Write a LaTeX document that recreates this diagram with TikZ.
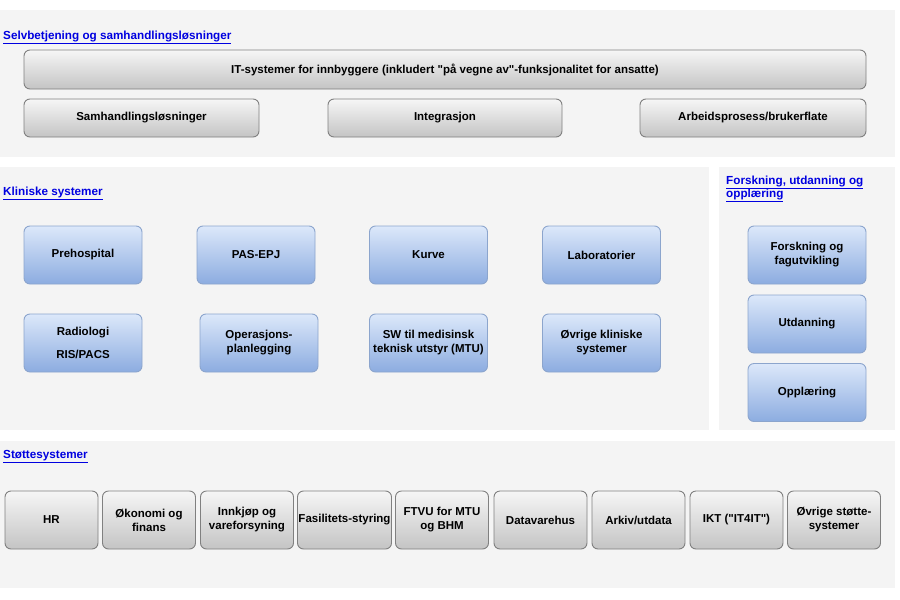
\documentclass[tikz,border=0pt]{standalone}
\usepackage{fontspec}
\setmainfont{Liberation Sans}
\definecolor{iktpanel}{RGB}{244,244,244}
\definecolor{iktlink}{RGB}{0,0,224}
\definecolor{iktgreytop}{RGB}{246,246,246}
\definecolor{iktgreybot}{RGB}{196,196,196}
\definecolor{iktgreyrule}{RGB}{128,128,128}
\definecolor{iktbluetop}{RGB}{220,232,250}
\definecolor{iktbluebot}{RGB}{140,172,224}
\definecolor{iktbluerule}{RGB}{140,165,205}

\begin{document}
\begin{tikzpicture}[x=1pt,y=-1pt,
  every node/.style={font=\fontsize{11.5}{14}\selectfont\bfseries,inner sep=1pt,align=center},
  iktbox/.style={rounded corners=6pt,line width=0.9pt},
  iktgrey/.style={iktbox,draw=iktgreyrule,top color=iktgreytop,bottom color=iktgreybot},
  iktblue/.style={iktbox,draw=iktbluerule,top color=iktbluetop,bottom color=iktbluebot,
    minimum width=118pt,minimum height=58pt},
  iktsmall/.style={iktgrey,minimum width=93pt,minimum height=58pt},
  ikthead/.style={anchor=base west,text=iktlink,font=\fontsize{11.7}{13}\selectfont\bfseries,align=left}]
\useasboundingbox (0,0) rectangle (900,600);
\fill[white] (0,0) rectangle (900,600);
% panels
\fill[iktpanel] (0,10) rectangle (895,157);
\fill[iktpanel] (0,167) rectangle (709,430);
\fill[iktpanel] (719,167) rectangle (895,430);
\fill[iktpanel] (0,441) rectangle (895,588);
% Selvbetjening
\node[ikthead] (hselv) at (2,39) {\underline{Selvbetjening og samhandlingsløsninger}};
\node[iktgrey,minimum width=842pt,minimum height=39pt] (innb) at (445,69.5)
  {IT-systemer for innbyggere (inkludert \textquotedbl på vegne av\textquotedbl-funksjonalitet for ansatte)};
\node[iktgrey,minimum width=235pt,minimum height=38pt] (samh) at (141.5,118) {Samhandlingsløsninger};
\node[iktgrey,minimum width=234pt,minimum height=38pt] (integ) at (445,118) {Integrasjon};
\node[iktgrey,minimum width=226pt,minimum height=38pt] (arbeid) at (753,118) {Arbeidsprosess/brukerflate};
% Kliniske systemer
\node[ikthead] (hklin) at (2,195) {\underline{Kliniske systemer}};
\node[iktblue] (prehosp) at (83,255) {Prehospital};
\node[iktblue] (pasepj) at (256,255) {PAS-EPJ};
\node[iktblue] (kurve) at (428.5,255) {Kurve};
\node[iktblue] (lab) at (601.5,255) {Laboratorier};
\node[iktblue] (radio) at (83,343) {Radiologi\\[9pt]RIS/PACS};
\node[iktblue] (operasjon) at (259,343) {Operasjons-\\planlegging};
\node[iktblue] (mtu) at (428.5,343) {SW til medisinsk\\teknisk utstyr (MTU)};
\node[iktblue] (ovrigklin) at (601.5,343) {Øvrige kliniske\\systemer};
% Forskning
\node[ikthead] (hforsk) at (725,184) {\underline{Forskning, utdanning og}};
\node[ikthead] (hforsk2) at (725,197) {\underline{opplæring}};
\node[iktblue] (forsk) at (807,255) {Forskning og\\fagutvikling};
\node[iktblue] (utdan) at (807,324) {Utdanning};
\node[iktblue] (oppl) at (807,392.5) {Opplæring};
% Stottesystemer
\node[ikthead] (hstotte) at (2,458) {\underline{Støttesystemer}};
\node[iktsmall] (hr) at (51.5,520) {HR};
\node[iktsmall] (okonomi) at (149,520) {Økonomi og\\finans};
\node[iktsmall] (innkjop) at (247,520) {Innkjøp og\\vareforsyning};
\node[iktsmall] (fasilitet) at (344.5,520) {Fasilitets-styring};
\node[iktsmall] (ftvu) at (442,520) {FTVU for MTU\\og BHM};
\node[iktsmall] (datavare) at (540.5,520) {Datavarehus};
\node[iktsmall] (arkiv) at (638.5,520) {Arkiv/utdata};
\node[iktsmall] (ikt) at (736.5,520) {IKT (\textquotedbl IT4IT\textquotedbl)};
\node[iktsmall] (ovrigstotte) at (834,520) {Øvrige støtte-\\systemer};
\end{tikzpicture}
\end{document}
